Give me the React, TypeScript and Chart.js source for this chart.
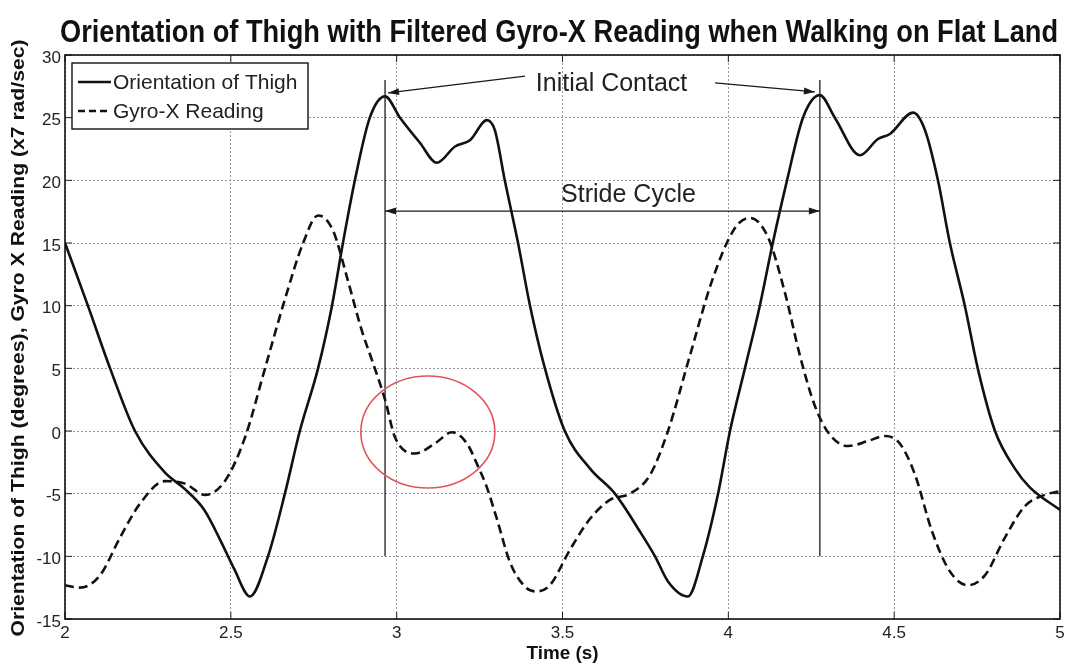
import React, { useEffect, useRef } from "react";
import { Chart, registerables } from "chart.js";

Chart.register(...registerables);

// ---------------- data ----------------
const thighTime = [
  2.0, 2.069, 2.136, 2.211, 2.301, 2.36, 2.42, 2.47, 2.51, 2.558, 2.612, 2.663,
  2.708, 2.763, 2.805, 2.838, 2.874, 2.919, 2.965, 3.01, 3.07, 3.121, 3.176,
  3.221, 3.272, 3.296, 3.326, 3.366, 3.402, 3.447, 3.507, 3.583, 3.658, 3.733,
  3.779, 3.818, 3.878, 3.923, 3.969, 4.005, 4.05, 4.095, 4.134, 4.177, 4.225,
  4.276, 4.321, 4.397, 4.451, 4.487, 4.557, 4.593, 4.632, 4.668, 4.713, 4.752,
  4.804, 4.864, 4.909, 5.0,
];
const thighValues = [
  15, 10, 5, 0, -3.3, -4.6, -6.3, -8.8, -11, -13.2, -10, -5,
  0, 5, 10, 15, 20, 25, 26.7, 25, 23, 21.4, 22.7,
  23.2, 24.8, 24, 20, 15, 10, 5, 0, -3, -5, -8,
  -10, -12, -13.2, -10, -5, 0, 5, 10, 15, 20, 25,
  26.8, 25, 22, 23.3, 23.7, 25.4, 24, 20, 15, 10, 5,
  0, -3, -4.5, -6.3,
];

const gyroTime = [
  2.0, 2.045, 2.106, 2.166, 2.226, 2.301, 2.362, 2.422, 2.482, 2.543, 2.603,
  2.663, 2.718, 2.763, 2.808, 2.853, 2.895, 2.925, 2.965, 2.995, 3.055, 3.115,
  3.167, 3.212, 3.245, 3.272, 3.302, 3.342, 3.39, 3.42, 3.462, 3.522, 3.583,
  3.643, 3.703, 3.764, 3.818, 3.884, 3.951, 4.02, 4.065, 4.119, 4.171, 4.216,
  4.261, 4.306, 4.361, 4.421, 4.472, 4.517, 4.563, 4.614, 4.668, 4.722, 4.774,
  4.834, 4.894, 4.954, 5.0,
];
const gyroValues = [
  -12.3, -12.5, -11.5, -8.5, -5.8, -4, -4.2, -5.1, -4, -0.5, 5,
  10.5, 15, 17.2, 16, 12, 8, 5.7, 2.5, -0.5, -1.8, -1,
  -0.1, -1, -2.8, -4.5, -7, -10.5, -12.5, -12.8, -12.3, -9.5, -7,
  -5.5, -5, -3.5, 0, 6, 12, 16.2, 17, 15.5, 11, 6,
  2, -0.3, -1.2, -0.8, -0.4, -1, -3.5, -8, -11.2, -12.3, -11.5,
  -8.5, -6, -5.1, -4.8,
];

const xTicks = [2, 2.5, 3, 3.5, 4, 4.5, 5];
const xTickLabels = ["2", "2.5", "3", "3.5", "4", "4.5", "5"];
const yTicks = [-15, -10, -5, 0, 5, 10, 15, 20, 25, 30];
const yTickLabels = ["-15", "-10", "-5", "0", "5", "10", "15", "20", "25", "30"];

const seriesLabels = ["Orientation of Thigh", "Gyro-X Reading"];
const titleText = "Orientation of Thigh with Filtered Gyro-X Reading when Walking on Flat Land";
const xTitleText = "Time (s)";
const yTitleText = "Orientation of Thigh (degrees), Gyro X Reading (x7 rad/sec)";

// annotations (data units)
const contactTimes = [2.965, 4.276];
const contactLineTop = 28.0;
const contactLineBottom = -10;
const contactLabel = "Initial Contact";
const contactLabelAt = [3.648, 27.13];
const contactArrowStarts = [
  [3.387, 28.32],
  [3.96, 27.77],
];
const contactArrowEnds = [
  [2.974, 26.97],
  [4.261, 27.05],
];
const strideLabel = "Stride Cycle";
const strideLabelAt = [3.699, 18.27];
const strideArrowY = 17.55;
const circleCenter = [3.094, -0.08];
const circleRadii = [0.202, 4.47];

const FONT = "'Liberation Sans', Arial, Helvetica, sans-serif";

function fitText(
  ctx: CanvasRenderingContext2D,
  text: string,
  x: number,
  y: number,
  width: number,
  font: string
) {
  ctx.save();
  ctx.font = font;
  const w = ctx.measureText(text).width;
  const s = width / w;
  ctx.translate(x, y);
  ctx.scale(s, 1);
  ctx.textAlign = "center";
  ctx.fillText(text, 0, 0);
  ctx.restore();
}

function arrowHead(
  ctx: CanvasRenderingContext2D,
  x1: number,
  y1: number,
  x2: number,
  y2: number
) {
  const ang = Math.atan2(y2 - y1, x2 - x1);
  const len = 11;
  const hw = 3.5;
  ctx.beginPath();
  ctx.moveTo(x2, y2);
  ctx.lineTo(
    x2 - len * Math.cos(ang) + hw * Math.sin(ang),
    y2 - len * Math.sin(ang) - hw * Math.cos(ang)
  );
  ctx.lineTo(
    x2 - len * Math.cos(ang) - hw * Math.sin(ang),
    y2 - len * Math.sin(ang) + hw * Math.cos(ang)
  );
  ctx.closePath();
  ctx.fill();
}

function arrow(
  ctx: CanvasRenderingContext2D,
  x1: number,
  y1: number,
  x2: number,
  y2: number
) {
  ctx.beginPath();
  ctx.moveTo(x1, y1);
  ctx.lineTo(x2, y2);
  ctx.stroke();
  arrowHead(ctx, x1, y1, x2, y2);
}

const decorPlugin = {
  id: "decor",
  afterDatasetsDraw(chart: any) {
    const { ctx, chartArea: a, scales } = chart;
    const xs = scales.x;
    const ys = scales.y;
    const X = (v: number) => xs.getPixelForValue(v);
    const Y = (v: number) => ys.getPixelForValue(v);
    ctx.save();

    // inward tick marks
    ctx.strokeStyle = "#222";
    ctx.lineWidth = 1;
    const tl = 7;
    xTicks.forEach((t) => {
      const px = X(t);
      ctx.beginPath();
      ctx.moveTo(px, a.bottom);
      ctx.lineTo(px, a.bottom - tl);
      ctx.moveTo(px, a.top);
      ctx.lineTo(px, a.top + tl);
      ctx.stroke();
    });
    yTicks.forEach((t) => {
      const py = Y(t);
      ctx.beginPath();
      ctx.moveTo(a.left, py);
      ctx.lineTo(a.left + tl, py);
      ctx.moveTo(a.right, py);
      ctx.lineTo(a.right - tl, py);
      ctx.stroke();
    });

    // box
    ctx.strokeStyle = "#111";
    ctx.lineWidth = 1.6;
    ctx.strokeRect(a.left, a.top, a.right - a.left, a.bottom - a.top);

    // contact lines
    ctx.strokeStyle = "#1a1a1a";
    ctx.fillStyle = "#1a1a1a";
    ctx.lineWidth = 1.3;
    contactTimes.forEach((t) => {
      ctx.beginPath();
      ctx.moveTo(X(t), Y(contactLineTop));
      ctx.lineTo(X(t), Y(contactLineBottom));
      ctx.stroke();
    });

    // initial contact arrows
    contactArrowStarts.forEach((s, i) => {
      const e = contactArrowEnds[i];
      arrow(ctx, X(s[0]), Y(s[1]), X(e[0]), Y(e[1]));
    });

    // stride cycle double arrow
    const sy = Y(strideArrowY);
    const sx1 = X(contactTimes[0]);
    const sx2 = X(contactTimes[1]);
    ctx.beginPath();
    ctx.moveTo(sx1, sy);
    ctx.lineTo(sx2, sy);
    ctx.stroke();
    arrowHead(ctx, sx2, sy, sx1, sy);
    arrowHead(ctx, sx1, sy, sx2, sy);

    // labels
    ctx.fillStyle = "#222";
    ctx.font = `25px ${FONT}`;
    ctx.textAlign = "center";
    ctx.textBaseline = "alphabetic";
    ctx.fillText(contactLabel, X(contactLabelAt[0]), Y(contactLabelAt[1]));
    ctx.font = `25px ${FONT}`;
    ctx.fillText(strideLabel, X(strideLabelAt[0]), Y(strideLabelAt[1]));

    // red ellipse
    ctx.strokeStyle = "#e2555c";
    ctx.lineWidth = 1.6;
    const cx = X(circleCenter[0]);
    const cy = Y(circleCenter[1]);
    const rx = Math.abs(X(circleCenter[0] + circleRadii[0]) - cx);
    const ry = Math.abs(Y(circleCenter[1] + circleRadii[1]) - cy);
    ctx.beginPath();
    ctx.ellipse(cx, cy, rx, ry, 0, 0, Math.PI * 2);
    ctx.stroke();

    // legend
    const lx = a.left + 7;
    const ly = a.top + 8;
    const lw = 236;
    const lh = 66;
    ctx.fillStyle = "#fff";
    ctx.fillRect(lx, ly, lw, lh);
    ctx.strokeStyle = "#111";
    ctx.lineWidth = 1.4;
    ctx.strokeRect(lx, ly, lw, lh);
    ctx.lineWidth = 2.6;
    ctx.beginPath();
    ctx.moveTo(lx + 6, ly + 19);
    ctx.lineTo(lx + 39, ly + 19);
    ctx.stroke();
    ctx.setLineDash([7, 4]);
    ctx.beginPath();
    ctx.moveTo(lx + 6, ly + 48);
    ctx.lineTo(lx + 39, ly + 48);
    ctx.stroke();
    ctx.setLineDash([]);
    ctx.fillStyle = "#222";
    ctx.font = `21px ${FONT}`;
    ctx.textAlign = "left";
    ctx.fillText(seriesLabels[0], lx + 41, ly + 26);
    ctx.fillText(seriesLabels[1], lx + 41, ly + 55);

    ctx.restore();
  },
  afterDraw(chart: any) {
    const { ctx, chartArea: a } = chart;
    ctx.save();
    ctx.fillStyle = "#111";
    ctx.textBaseline = "alphabetic";
    // title
    fitText(ctx, titleText, 559, 42, 998, `bold 31px ${FONT}`);
    // x title
    fitText(ctx, xTitleText, (a.left + a.right) / 2, 659, 72, `bold 19px ${FONT}`);
    // y title
    ctx.save();
    ctx.translate(24, 338);
    ctx.rotate(-Math.PI / 2);
    fitText(ctx, yTitleText, 0, 0, 597, `bold 18px ${FONT}`);
    ctx.restore();
    ctx.restore();
  },
};

export default function App() {
  const ref = useRef<HTMLCanvasElement | null>(null);

  useEffect(() => {
    document.body.style.margin = "0";
    const canvas = ref.current;
    if (!canvas) return;
    const chart = new Chart(canvas, {
      type: "line",
      data: {
        datasets: [
          {
            label: seriesLabels[0],
            data: thighTime.map((t, i) => ({ x: t, y: thighValues[i] })),
            borderColor: "#111",
            borderWidth: 2.6,
            pointRadius: 0,
            fill: false,
            cubicInterpolationMode: "monotone",
          },
          {
            label: seriesLabels[1],
            data: gyroTime.map((t, i) => ({ x: t, y: gyroValues[i] })),
            borderColor: "#111",
            borderWidth: 2.6,
            borderDash: [9, 5],
            pointRadius: 0,
            fill: false,
            cubicInterpolationMode: "monotone",
          },
        ],
      },
      options: {
        responsive: false,
        animation: false,
        devicePixelRatio: 1,
        layout: { padding: { top: 55, right: 9, left: 0, bottom: 0 } },
        plugins: {
          legend: { display: false },
          title: { display: false },
          tooltip: { enabled: false },
        },
        scales: {
          x: {
            type: "linear",
            min: 2,
            max: 5,
            afterBuildTicks: (scale: any) => {
              scale.ticks = xTicks.map((v) => ({ value: v }));
            },
            afterFit: (scale: any) => {
              scale.height = 47;
              scale.paddingLeft = 0;
              scale.paddingRight = 0;
            },
            ticks: {
              autoSkip: false,
              maxRotation: 0,
              padding: 4,
              color: "#222",
              font: { family: FONT, size: 17 },
              callback: (_v: any, i: number) => xTickLabels[i],
            },
            grid: {
              color: "#9a9a9a",
              lineWidth: 1,
              drawTicks: false,
            },
            border: { display: false, dash: [2, 2] },
          },
          y: {
            type: "linear",
            min: -15,
            max: 30,
            afterBuildTicks: (scale: any) => {
              scale.ticks = yTicks.map((v) => ({ value: v }));
            },
            afterFit: (scale: any) => {
              scale.width = 65;
              scale.paddingTop = 0;
              scale.paddingBottom = 0;
            },
            ticks: {
              autoSkip: false,
              padding: 4,
              labelOffset: 3,
              color: "#222",
              font: { family: FONT, size: 17 },
              callback: (_v: any, i: number) => yTickLabels[i],
            },
            grid: {
              color: "#9a9a9a",
              lineWidth: 1,
              drawTicks: false,
            },
            border: { display: false, dash: [2, 2] },
          },
        },
      },
      plugins: [decorPlugin],
    } as any);
    return () => chart.destroy();
  }, []);

  return (
    <div style={{ position: "fixed", left: 0, top: 0, width: 1069, height: 666, background: "#fff" }}>
      <canvas ref={ref} width={1069} height={666} style={{ width: 1069, height: 666, display: "block" }} />
    </div>
  );
}
